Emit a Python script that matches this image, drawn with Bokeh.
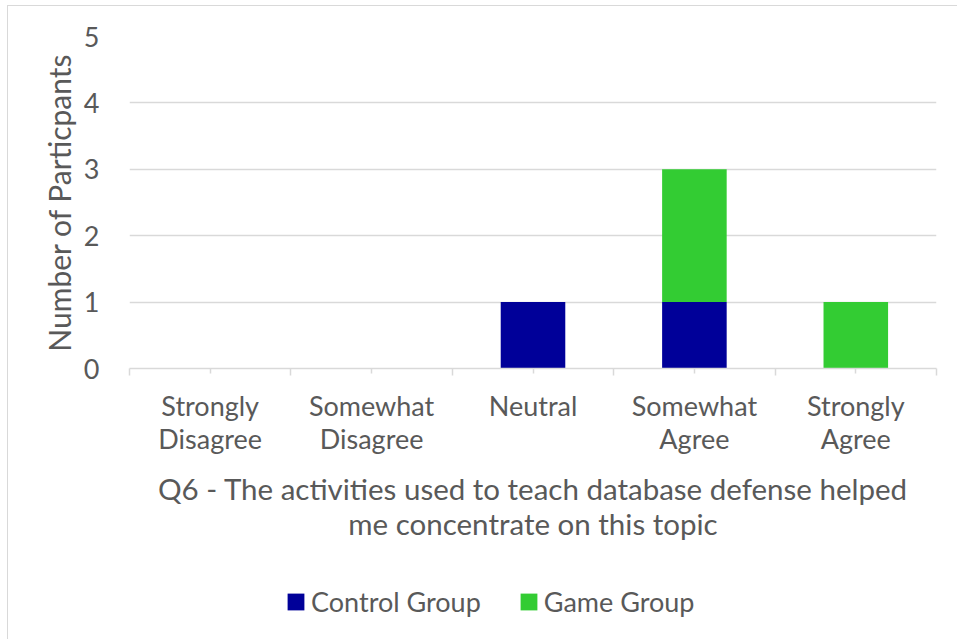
from bokeh.plotting import figure
from bokeh.models import Range1d, FixedTicker, Legend, LegendItem, ColumnDataSource
from bokeh.layouts import column
from bokeh.embed import file_html
from bokeh.resources import INLINE

categories = ["Strongly\nDisagree", "Somewhat\nDisagree", "Neutral", "Somewhat\nAgree", "Strongly\nAgree"]
control = [0, 0, 1, 1, 0]
game = [0, 0, 0, 2, 1]
series_names = ["Control Group", "Game Group"]
series_colors = ["#000099", "#33CC33"]
y_ticks = [0, 1, 2, 3, 4, 5]
x_title = "Q6 - The activities used to teach database defense helped\nme concentrate on this topic"
y_title = "Number of Particpants"

FONT = "Lato"
GRAY = "#595959"
FS = "27px"
TS = "29.5px"
xs = list(range(len(categories)))

W = 949
p = figure(width=W, height=562, output_backend="svg", toolbar_location=None,
           x_range=Range1d(-0.5, len(categories) - 0.5), y_range=Range1d(0, 5),
           min_border_left=121, min_border_right=21, min_border_top=30, min_border_bottom=200)
p.outline_line_color = None

src = ColumnDataSource(dict(x=xs, c0=[0]*5, c1=control, g0=control,
                            g1=[a + b for a, b in zip(control, game)]))
p.vbar(x="x", bottom="c0", top="c1", width=0.4, source=src, fill_color=series_colors[0], line_color=None)
p.vbar(x="x", bottom="g0", top="g1", width=0.4, source=src, fill_color=series_colors[1], line_color=None)

p.xaxis.ticker = FixedTicker(ticks=xs, minor_ticks=[i - 0.5 for i in range(len(categories) + 1)])
p.xaxis.major_label_overrides = {i: c for i, c in enumerate(categories)}
p.xaxis.axis_line_color = "#D9D9D9"
p.xaxis.axis_line_width = 1.5
p.xaxis.major_tick_line_color = "#D9D9D9"
p.xaxis.minor_tick_line_color = "#D9D9D9"
p.xaxis.major_tick_line_width = 1.5
p.xaxis.minor_tick_line_width = 1.5
p.xaxis.major_tick_out = 5
p.xaxis.major_tick_in = 0
p.xaxis.minor_tick_out = 7
p.xaxis.minor_tick_in = 0
p.xaxis.major_label_standoff = 13
p.xaxis.major_label_text_font = FONT
p.xaxis.major_label_text_font_size = FS
p.xaxis.major_label_text_line_height = 1.0
p.xaxis.major_label_text_color = GRAY
p.xaxis.axis_label = x_title
p.xaxis.axis_label_text_font = FONT
p.xaxis.axis_label_text_font_size = TS
p.xaxis.axis_label_text_line_height = 1.0
p.xaxis.axis_label_text_font_style = "normal"
p.xaxis.axis_label_text_color = GRAY
p.xaxis.axis_label_standoff = 13

p.yaxis.ticker = FixedTicker(ticks=y_ticks)
p.yaxis.axis_line_color = None
p.yaxis.major_tick_line_color = None
p.yaxis.minor_tick_line_color = None
p.yaxis.major_label_text_font = FONT
p.yaxis.major_label_text_font_size = FS
p.yaxis.major_label_text_color = GRAY
p.yaxis.major_label_standoff = 24
p.yaxis.axis_label = y_title
p.yaxis.axis_label_text_font = FONT
p.yaxis.axis_label_text_font_size = "30px"
p.yaxis.axis_label_text_font_style = "normal"
p.yaxis.axis_label_text_color = GRAY
p.yaxis.axis_label_standoff = 4

p.xgrid.grid_line_color = None
p.ygrid.grid_line_color = "#D9D9D9"
p.ygrid.grid_line_width = 1.5

# legend strip (its renderers reuse the data but lie outside this strip's view)
p2 = figure(width=W, height=71, output_backend="svg", toolbar_location=None,
            x_range=Range1d(-0.5, len(categories) - 0.5), y_range=Range1d(10, 11),
            min_border_left=0, min_border_right=0, min_border_top=0, min_border_bottom=0)
p2.axis.visible = False
p2.grid.visible = False
p2.outline_line_color = None
r1 = p2.vbar(x="x", bottom="c0", top="c1", width=0.4, source=src, fill_color=series_colors[0], line_color=None)
r2 = p2.vbar(x="x", bottom="g0", top="g1", width=0.4, source=src, fill_color=series_colors[1], line_color=None)
legend = Legend(items=[LegendItem(label=series_names[0], renderers=[r1], index=0),
                       LegendItem(label=series_names[1], renderers=[r2], index=0)],
                orientation="horizontal", location=(156, 21),
                label_text_font=FONT, label_text_font_size=FS, label_text_color=GRAY,
                glyph_width=21, glyph_height=21, spacing=37, label_standoff=5,
                border_line_color=None, background_fill_alpha=0, padding=4, margin=0)
p2.add_layout(legend, "center")

layout = column(p, p2, spacing=0)
layout.styles = {"border-left": "1px solid #D9D9D9", "border-top": "1px solid #D9D9D9",
                 "margin-left": "7px", "margin-top": "5px"}

open("out.html", "w").write(file_html(layout, INLINE))
